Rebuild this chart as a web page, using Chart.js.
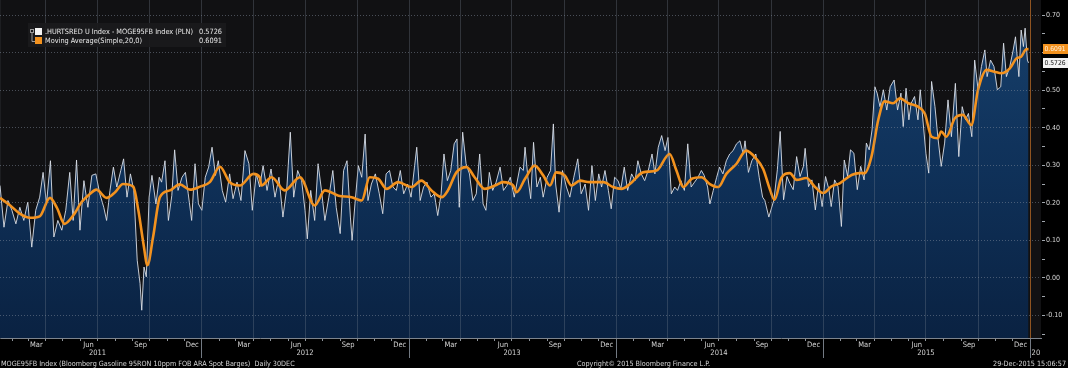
<!DOCTYPE html>
<html>
<head>
<meta charset="utf-8">
<script src="https://cdn.jsdelivr.net/npm/chart.js@4.4.0/dist/chart.umd.min.js"></script>
<style>
  html, body { margin: 0; padding: 0; background: #000; }
</style>
</head>
<body>
<canvas id="myChart" width="1068" height="368"></canvas>
<script>
// x values are days counted from 1 Jan 2011
const spotDays = [
  9,16,23,30,37,44,51,58,65,72,79,85,91,98,104,111,118,125,132,138,
  144,150,157,164,171,178,185,192,197,203,209,215,222,227,233,239,245,251,256,259,
  263,267,272,277,284,290,294,300,306,312,317,323,330,336,341,347,353,359,365,371,
  377,383,389,394,401,407,414,420,427,434,441,448,454,461,467,
  473,480,487,494,501,508,515,521,527,534,541,547,551,557,564,570,576,582,589,596,
  602,609,615,621,627,630,635,641,647,653,658,664,671,678,684,690,696,702,708,715,
  721,728,734,740,744,750,756,762,769,775,781,787,792,798,804,810,815,819,825,831,
  837,843,849,855,861,866,872,878,884,891,897,903,909,916,
  926,932,935,940,945,950,956,962,967,974,980,985,989,995,1001,1008,1014,1021,1028,1034,
  1041,1047,1053,1059,1065,1070,1076,1082,1087,1093,1099,1104,1110,1116,1123,1129,1134,1140,1146,1153,
  1159,1164,1170,1176,1182,1187,1193,1199,1204,1210,1216,1222,1228,1234,1240,1246,1251,1257,1261,1267,
  1273,1278,1284,1290,1296,1302,1308,1314,1320,1323,1329,1335,1342,1348,1354,1358,1365,
  1374,1380,1385,1391,1397,1402,1408,1414,1420,1426,1429,1435,1441,1447,1453,1459,1465,1471,1475,1481,
  1487,1493,1498,1504,1509,1515,1521,1527,1533,1537,1542,1547,1552,1556,1561,1567,1573,1579,1586,1592,
  1598,1602,1607,1612,1616,1622,1628,1632,1638,1642,1647,1652,1658,1663,1669,1675,1681,1687,1694,1700,
  1706,1712,1717,1723,1728,1734,1740,1746,1750,1756,1762,1768,1774,1779,1784,1790,1796,1800,1806,1810,
  1814,1817,1821,1823
];
const spotValues = [
  0.246,0.135,0.206,0.180,0.144,0.188,0.153,0.202,0.082,0.180,0.215,0.281,0.197,0.312,0.109,0.153,0.127,0.180,0.281,0.153,
  0.314,0.127,0.259,0.188,0.273,0.277,0.224,0.188,0.153,0.233,0.295,0.242,0.286,0.317,0.215,0.277,0.233,0.047,-0.015,-0.086,
  0.029,0.003,0.215,0.273,0.197,0.268,0.255,0.312,0.153,0.219,0.341,0.233,0.268,0.281,0.224,0.153,0.304,0.197,0.180,0.268,
  0.295,0.348,0.273,0.312,0.233,0.202,0.277,0.211,0.255,0.206,0.339,0.304,0.180,0.277,0.242,
  0.299,0.233,0.290,0.215,0.268,0.162,0.242,0.388,0.215,0.286,0.259,0.180,0.104,0.233,0.153,0.304,0.233,0.153,0.215,0.286,
  0.188,0.118,0.286,0.312,0.162,0.100,0.197,0.299,0.268,0.383,0.206,0.250,0.277,0.224,0.171,0.277,0.286,0.242,0.233,0.286,
  0.224,0.250,0.215,0.295,0.348,0.206,0.242,0.255,0.215,0.224,0.166,0.224,0.330,0.259,0.286,0.357,0.370,0.188,0.388,0.304,
  0.277,0.206,0.224,0.330,0.197,0.180,0.281,0.233,0.255,0.295,0.233,0.246,0.268,0.215,
  0.295,0.286,0.348,0.268,0.211,0.361,0.242,0.268,0.215,0.268,0.286,0.410,0.250,0.175,0.286,0.242,0.215,0.268,0.317,0.224,
  0.250,0.180,0.299,0.206,0.277,0.242,0.286,0.233,0.184,0.268,0.259,0.237,0.295,0.233,0.277,0.259,0.312,0.277,0.259,0.290,
  0.330,0.277,0.348,0.379,0.339,0.374,0.224,0.242,0.233,0.259,0.233,0.357,0.242,0.255,0.268,0.286,0.273,0.242,0.197,0.233,
  0.268,0.295,0.277,0.312,0.330,0.339,0.357,0.365,0.330,0.365,0.281,0.312,0.330,0.268,0.215,0.206,0.162,
  0.208,0.288,0.390,0.208,0.270,0.252,0.235,0.323,0.270,0.297,0.345,0.243,0.261,0.181,0.252,0.190,0.270,0.235,0.190,0.261,
  0.243,0.137,0.314,0.270,0.341,0.332,0.235,0.297,0.261,0.359,0.341,0.394,0.509,0.492,0.456,0.501,0.447,0.509,0.527,0.447,
  0.492,0.403,0.505,0.421,0.465,0.483,0.421,0.501,0.399,0.332,0.279,0.523,0.456,0.376,0.297,0.359,0.474,0.376,0.518,0.323,
  0.456,0.421,0.438,0.376,0.580,0.501,0.563,0.607,0.536,0.580,0.563,0.501,0.509,0.625,0.536,0.563,0.607,0.642,0.536,0.660,
  0.616,0.665,0.580,0.5726
];
const maDays = [
  9,27,44,62,79,97,109,123,138,153,168,179,197,212,226,244,253,262,269,279,
  291,309,326,344,362,379,397,414,432,456,467,
  470,488,511,538,564,582,606,629,647,661,676,691,711,735,752,770,788,799,814,832,
  846,864,882,896,914,
  920,935,952,967,979,990,1005,1017,1032,1049,1073,1090,1105,1120,1143,1167,1190,1202,1214,1229,
  1246,1261,1276,1290,1308,1325,1343,1355,
  1367,1375,1387,1402,1414,1431,1446,1461,1475,1490,1511,1525,1534,1546,1558,1569,1584,1596,1611,1628,
  1640,1652,1663,1669,1678,1693,1707,1722,1734,1749,1763,1775,1790,1802,1810,1819,1823
];
const maValues = [
  0.213,0.193,0.171,0.160,0.164,0.213,0.188,0.144,0.166,0.202,0.224,0.235,0.213,0.228,0.250,0.243,0.180,0.091,0.034,0.109,
  0.215,0.233,0.249,0.235,0.243,0.255,0.296,0.255,0.246,0.277,0.268,
  0.246,0.268,0.233,0.268,0.193,0.233,0.219,0.215,0.206,0.268,0.264,0.237,0.255,0.242,0.259,0.233,0.215,0.233,0.281,0.295,
  0.268,0.237,0.246,0.255,0.246,
  0.228,0.264,0.299,0.273,0.246,0.281,0.273,0.246,0.259,0.255,0.255,0.242,0.237,0.250,0.281,0.286,0.330,0.286,0.242,0.264,
  0.268,0.250,0.242,0.277,0.304,0.339,0.317,0.290,
  0.235,0.208,0.266,0.279,0.261,0.266,0.243,0.226,0.243,0.252,0.274,0.279,0.279,0.323,0.421,0.470,0.465,0.478,0.465,0.456,
  0.438,0.376,0.372,0.390,0.376,0.425,0.434,0.407,0.501,0.554,0.549,0.545,0.558,0.585,0.589,0.609,0.6091
];

const monthNames = ['Jan','Feb','Mar','Apr','May','Jun','Jul','Aug','Sep','Oct','Nov','Dec'];
const labelMonths = [2, 5, 8, 11];
const years = [2011, 2012, 2013, 2014, 2015];
const yTickValues = [-0.15,-0.10,-0.05,0.00,0.05,0.10,0.15,0.20,0.25,0.30,0.35,0.40,0.45,0.50,0.55,0.60,0.65,0.70];
const lastSpot = 0.5726;
const lastMa = 0.6091;
const legendNames = ['.HURTSRED U Index - MOGE95FB Index (PLN)', 'Moving Average(Simple,20,0)'];
const footerLeft = 'MOGE95FB Index (Bloomberg Gasoline 95RON 10ppm FOB ARA Spot Barges)  Daily 30DEC';
const footerMid = 'Copyright\u00A9 2015 Bloomberg Finance L.P.';
const footerRight = '29-Dec-2015 15:06:57';

const X_MIN = 9, X_MAX = 1845;
const FONT = "'DejaVu Sans Condensed', 'DejaVu Sans', sans-serif";
const orange = '#f3921e';
const gridColor = 'rgba(130,140,155,0.5)';
const vGridColor = 'rgba(125,135,150,0.3)';
const clear = 'rgba(0,0,0,0)';

const dayOf = (y, m, d) => (Date.UTC(y, m, d) - Date.UTC(2011, 0, 1)) / 86400000;

// month boundaries, quarter boundaries, mid-month labels and mid-year labels
const monthStarts = [], quarterStarts = [], yearStarts = [], tickLabels = {};
years.forEach(y => {
  for (let m = 0; m < 12; m++) {
    monthStarts.push(dayOf(y, m, 1));
    if (m % 3 === 0) quarterStarts.push(dayOf(y, m, 1));
    if (labelMonths.includes(m)) tickLabels[dayOf(y, m, 15)] = monthNames[m];
  }
  if (y > 2011) yearStarts.push(dayOf(y, 0, 1));
  tickLabels[dayOf(y, 6, 1)] = ['', String(y)];
});
const today = dayOf(2016, 0, 1);
monthStarts.push(today);
quarterStarts.push(today);
yearStarts.push(today);
tickLabels[dayOf(2016, 0, 11)] = ['', '20'];

const inRange = v => v >= X_MIN && v <= X_MAX;
const noPad = axis => { axis.paddingLeft = 0; axis.paddingRight = 0; axis.paddingTop = 0; axis.paddingBottom = 0; };

const overlay = {
  id: 'overlay',
  beforeDraw(chart) {
    const { ctx, chartArea: a } = chart;
    ctx.save();
    ctx.fillStyle = '#000';
    ctx.fillRect(0, 0, chart.width, chart.height);
    ctx.fillStyle = '#111113';
    ctx.fillRect(a.left, a.top, a.right - a.left, a.bottom - a.top);
    ctx.restore();
  },
  afterDraw(chart) {
    const { ctx } = chart;
    const y = chart.scales.y;
    ctx.save();

    // legend box
    ctx.fillStyle = 'rgba(26,26,28,0.92)';
    ctx.fillRect(28, 23, 198, 24);
    ctx.strokeStyle = '#9a9a9a';
    ctx.lineWidth = 1;
    ctx.strokeRect(30.5, 29.5, 3, 3);
    ctx.beginPath();
    ctx.moveTo(32, 33); ctx.lineTo(32, 41.5); ctx.lineTo(35, 41.5);
    ctx.stroke();
    ctx.fillStyle = '#f4f4f4';
    ctx.fillRect(35, 28, 7, 7);
    ctx.fillStyle = orange;
    ctx.fillRect(35, 37, 7, 7);
    ctx.font = '7.3px ' + FONT;
    ctx.fillStyle = '#e8e8e8';
    ctx.textBaseline = 'middle';
    ctx.textAlign = 'left';
    ctx.fillText(legendNames[0], 45, 32);
    ctx.fillText(legendNames[1], 45, 41);
    ctx.textAlign = 'right';
    ctx.fillText(lastSpot.toFixed(4), 222, 32);
    ctx.fillText(lastMa.toFixed(4), 222, 41);

    // last value tags on the right axis
    const tag = (val, bg, fg) => {
      const py = Math.round(y.getPixelForValue(val));
      ctx.fillStyle = bg;
      ctx.fillRect(1043, py - 5, 25, 10);
      ctx.fillStyle = fg;
      ctx.textAlign = 'left';
      ctx.textBaseline = 'middle';
      ctx.font = '6.7px ' + FONT;
      ctx.fillText(val.toFixed(4), 1044.5, py + 0.5);
    };
    tag(lastMa, orange, '#fff4e4');
    tag(lastSpot, '#f2f2f2', '#111');

    // footer
    ctx.font = '7.2px ' + FONT;
    ctx.fillStyle = '#d6d6d6';
    ctx.textBaseline = 'alphabetic';
    ctx.textAlign = 'left';
    ctx.fillText(footerLeft, 1, 366);
    ctx.fillText(footerMid, 577, 366);
    ctx.textAlign = 'right';
    ctx.fillText(footerRight, 1066, 366);
    ctx.restore();
  }
};

const ctx = document.getElementById('myChart').getContext('2d');
window.myChart = new Chart(ctx, {
  type: 'line',
  data: {
    datasets: [
      {
        label: legendNames[1],
        data: maDays.map((d, i) => ({ x: d, y: maValues[i] })),
        borderColor: orange,
        borderWidth: 2.6,
        cubicInterpolationMode: 'monotone',
        pointRadius: 0,
        fill: false,
        xAxisID: 'x'
      },
      {
        label: legendNames[0],
        data: spotDays.map((d, i) => ({ x: d, y: spotValues[i] })),
        borderColor: 'rgba(222,227,234,0.88)',
        borderWidth: 1,
        tension: 0,
        pointRadius: 0,
        fill: 'start',
        xAxisID: 'x',
        backgroundColor: (c) => {
          const a = c.chart.chartArea;
          if (!a) return '#0c2a4c';
          const g = c.chart.ctx.createLinearGradient(0, a.top, 0, a.bottom);
          g.addColorStop(0, '#17406c');
          g.addColorStop(0.5, '#0f3159');
          g.addColorStop(1, '#0a2242');
          return g;
        }
      }
    ]
  },
  options: {
    responsive: false,
    animation: false,
    devicePixelRatio: 1,
    layout: { autoPadding: false, padding: { left: 0, right: 0, top: 0, bottom: 10 } },
    plugins: { legend: { display: false }, tooltip: { enabled: false } },
    scales: {
      // quarter grid lines and long year separators, sits right under the plot
      x2: {
        type: 'linear', position: 'bottom', weight: -1, min: X_MIN, max: X_MAX, bounds: 'data',
        afterBuildTicks: axis => { axis.ticks = quarterStarts.filter(inRange).map(v => ({ value: v })); },
        afterFit: axis => { axis.height = 0; noPad(axis); },
        grid: {
          z: 1,
          drawOnChartArea: true,
          lineWidth: 1,
          color: c => (c.tick && c.tick.value === today) ? 'rgba(196,112,40,0.7)' : vGridColor,
          drawTicks: true, tickLength: 20,
          tickColor: c => (c.tick && yearStarts.includes(c.tick.value)) ? '#737a83' : clear
        },
        border: { display: true, width: 1, color: clear, dash: [] },
        ticks: { display: false }
      },
      x: {
        type: 'linear', position: 'bottom', weight: 0, min: X_MIN, max: X_MAX, bounds: 'data',
        afterBuildTicks: axis => {
          const vals = monthStarts.concat(Object.keys(tickLabels).map(Number));
          axis.ticks = [...new Set(vals)].filter(inRange).sort((a, b) => a - b).map(v => ({ value: v }));
        },
        afterFit: axis => { axis.height = 20; noPad(axis); },
        grid: {
          drawOnChartArea: false,
          color: clear,
          drawTicks: true,
          tickLength: 3,
          tickColor: c => (c.tick && monthStarts.includes(c.tick.value)) ? '#8d939b' : clear
        },
        border: { display: true, color: '#7d848d' },
        ticks: {
          autoSkip: false, maxRotation: 0, padding: 0,
          color: '#d4d4d4', font: { family: FONT, size: 7.5, lineHeight: 1.05 },
          callback: v => tickLabels[v] || ''
        }
      },
      y: {
        position: 'right', min: -0.16, max: 0.74,
        afterBuildTicks: axis => { axis.ticks = yTickValues.map(v => ({ value: v })); },
        afterFit: axis => { axis.width = 27; noPad(axis); },
        grid: {
          z: 1,
          color: c => (c.tick && Math.round(c.tick.value * 100) % 10 === 0) ? gridColor : clear,
          drawTicks: true, tickLength: 4, tickColor: '#a0a6ad'
        },
        border: { display: true, color: '#2b2d31', dash: [1, 2] },
        ticks: {
          autoSkip: false, padding: 1,
          color: '#d8d8d8', font: { family: FONT, size: 7 },
          callback: v => (Math.round(v * 100) % 10 === 0) ? v.toFixed(2) : ''
        }
      }
    }
  },
  plugins: [overlay]
});
</script>
</body>
</html>
